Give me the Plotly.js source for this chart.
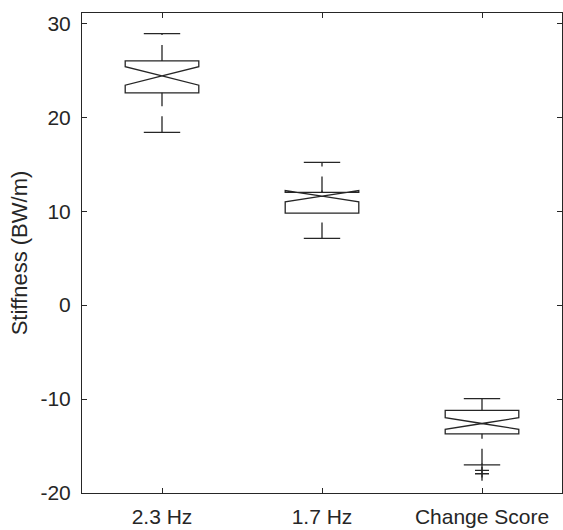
<!DOCTYPE html>
<html>
<head>
<meta charset="utf-8">
<script src="https://cdn.plot.ly/plotly-3.0.1.min.js"></script>
<style>
  html, body { margin: 0; padding: 0; background: #fff; }
  #chart { width: 563px; height: 530px; }
</style>
</head>
<body>
<div id="chart"></div>
<script>
// Stiffness summary per condition (notched box plot)
const categories = ['2.3 Hz', '1.7 Hz', 'Change Score'];
const upperAdjacent = [28.9, 15.2, -9.95];
const q3 = [26.0, 12.0, -11.2];
const median = [24.4, 11.6, -12.6];
const q1 = [22.6, 9.8, -13.7];
const lowerAdjacent = [18.4, 7.1, -17.0];
const notchSpan = [0.98, 0.6, 0.62];
const outlierValues = [[], [], [-17.6, -17.95]];
const yTickValues = [-20, -10, 0, 10, 20, 30];
const yTickLabels = ['-20', '-10', '0', '10', '20', '30'];

const ink = '#262626';
const lineW = 1.3;

// Boxes only: whiskers are drawn separately so they can be dashed
const boxTrace = {
  type: 'box',
  x: categories,
  q1: q1,
  median: median,
  q3: q3,
  lowerfence: q1,
  upperfence: q3,
  notchspan: notchSpan,
  notched: true,
  notchwidth: 0.5,
  whiskerwidth: 0,
  width: 0.46,
  boxpoints: false,
  fillcolor: 'rgba(0,0,0,0)',
  line: { color: ink, width: lineW },
  hoverinfo: 'skip',
  showlegend: false
};

// Dashed whiskers: upper from q3 to upper adjacent value, lower from lower adjacent value to q1
const wx = [], wy = [];
categories.forEach((c, i) => {
  wx.push(c, c, null, c, c, null);
  wy.push(q3[i], upperAdjacent[i], null, lowerAdjacent[i], q1[i], null);
});
const whiskerTrace = {
  type: 'scatter', mode: 'lines',
  x: wx, y: wy,
  line: { color: ink, width: lineW, dash: '16px,10px' },
  hoverinfo: 'skip', showlegend: false
};

// Whisker caps
const capTrace = {
  type: 'scatter', mode: 'markers',
  x: categories.concat(categories),
  y: upperAdjacent.concat(lowerAdjacent),
  marker: { symbol: 'line-ew', size: 26, line: { color: ink, width: lineW } },
  hoverinfo: 'skip', showlegend: false
};

// Outliers
const ox = [], oy = [];
categories.forEach((c, i) => {
  outlierValues[i].forEach(v => { ox.push(c); oy.push(v); });
});
const outlierTrace = {
  type: 'scatter', mode: 'markers',
  x: ox, y: oy,
  marker: { symbol: 'cross-thin', size: 10, line: { color: ink, width: lineW } },
  hoverinfo: 'skip', showlegend: false
};

const font = { family: 'Liberation Sans, Arial, sans-serif', size: 21, color: ink };

const layout = {
  width: 563, height: 530,
  margin: { l: 82, r: 1, t: 13, b: 37 },
  paper_bgcolor: '#fff', plot_bgcolor: '#fff',
  font: font,
  showlegend: false,
  xaxis: {
    type: 'category',
    range: [-0.5, 2.5],
    showgrid: false, zeroline: false,
    showline: true, linecolor: ink, linewidth: 1, mirror: 'ticks',
    ticks: 'inside', ticklen: 5, tickcolor: ink, tickwidth: 1,
    ticklabelstandoff: 5,
    tickfont: font
  },
  yaxis: {
    range: [-20, 31.1],
    tickmode: 'array',
    tickvals: yTickValues,
    ticktext: yTickLabels,
    showgrid: false, zeroline: false,
    showline: true, linecolor: ink, linewidth: 1, mirror: 'ticks',
    ticks: 'inside', ticklen: 5, tickcolor: ink, tickwidth: 1,
    ticklabelstandoff: 6,
    tickfont: font,
    title: { text: 'Stiffness (BW/m)', font: { family: font.family, size: 22, color: ink }, standoff: 6 }
  }
};

Plotly.newPlot('chart', [boxTrace, whiskerTrace, capTrace, outlierTrace], layout, { displayModeBar: false, staticPlot: true });
</script>
</body>
</html>
